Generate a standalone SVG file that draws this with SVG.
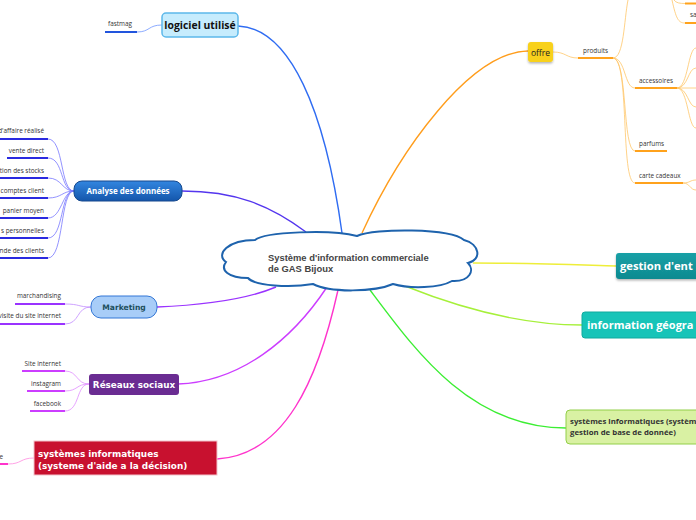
<svg xmlns="http://www.w3.org/2000/svg" width="696" height="520" viewBox="0 0 696 520">
<defs>
<linearGradient id="gAn" x1="0" y1="0" x2="0" y2="1"><stop offset="0" stop-color="#3386e0"/><stop offset="1" stop-color="#1456ab"/></linearGradient>
<linearGradient id="gGe" x1="0" y1="0" x2="0" y2="1"><stop offset="0" stop-color="#17a0a6"/><stop offset="1" stop-color="#0f8a90"/></linearGradient>
<filter id="sh" x="-20%" y="-20%" width="140%" height="160%"><feDropShadow dx="0" dy="1.5" stdDeviation="1" flood-color="#000" flood-opacity="0.3"/></filter>
</defs>
<style>
.sm{font-family:"Open Sans","Noto Sans",sans-serif;font-size:6.4px;fill:#333}
.br{fill:none}
.ul{fill:none;stroke-width:2}
.dv{font-family:"DejaVu Sans",sans-serif;font-weight:bold}
.os{font-family:"Open Sans","Noto Sans",sans-serif;font-weight:bold}
</style>
<rect width="696" height="520" fill="#fff"/>

<g id="connectors">
  <path class="br" d="M238,26 C290,28 325,110 342,233" stroke="#2f6cf2" stroke-width="1.4"/>
  <path class="br" d="M182,191 C235,191 270,205 306,232" stroke="#5436ee" stroke-width="1.4"/>
  <path class="br" d="M157,307 C205,305 245,300 276,287" stroke="#9a33ff" stroke-width="1.4"/>
  <path class="br" d="M178,384 C240,382 292,340 327,287" stroke="#cc3dff" stroke-width="1.4"/>
  <path class="br" d="M217,459 C285,455 318,380 338,290" stroke="#ff33cc" stroke-width="1.4"/>
  <path class="br" d="M362,233 C400,150 470,52 528,51" stroke="#ff9d1c" stroke-width="1.4"/>
  <path class="br" d="M473,263 C530,263 580,265 616,266" stroke="#eeee3a" stroke-width="1.4"/>
  <path class="br" d="M405,286 C470,312 530,325 582,325" stroke="#a6f03a" stroke-width="1.4"/>
  <path class="br" d="M370,290 C415,350 470,428 566,428" stroke="#3cee33" stroke-width="1.4"/>

  <path class="ul" d="M105,32 H137" stroke="#2255dd"/>
  <path class="br" d="M137,32 C150,32 148,25 162,25" stroke="#6f95ff" stroke-width="0.8"/>

  <g stroke="#7777ff" stroke-width="0.8" fill="none">
    <path d="M48,139 C64,139 60,191 74,191"/>
    <path d="M48,158 C64,158 60,191 74,191"/>
    <path d="M48,178 C62,178 62,191 74,191"/>
    <path d="M48,198 C62,198 62,191 74,191"/>
    <path d="M48,218 C62,218 62,191 74,191"/>
    <path d="M48,238 C64,238 60,191 74,191"/>
    <path d="M48,258 C64,258 60,191 74,191"/>
  </g>
  <g stroke="#2a2ae0" class="ul">
    <path d="M0,139 H48"/>
    <path d="M7,158 H48"/>
    <path d="M0,178 H48"/>
    <path d="M0,198 H48"/>
    <path d="M0,218 H48"/>
    <path d="M0,238 H48"/>
    <path d="M0,258 H48"/>
  </g>

  <g stroke="#c28cff" stroke-width="0.8" fill="none">
    <path d="M65,304 C80,304 78,307 91,307"/>
    <path d="M65,324 C80,324 76,307 91,307"/>
  </g>
  <g stroke="#9a33ff" class="ul">
    <path d="M15,304 H65"/>
    <path d="M0,324 H65"/>
  </g>

  <g stroke="#e08cff" stroke-width="0.8" fill="none">
    <path d="M65,371 C78,371 76,384 89,384"/>
    <path d="M65,391 C78,391 76,384 89,384"/>
    <path d="M65,411 C80,411 76,384 89,384"/>
  </g>
  <g stroke="#cc3dff" class="ul">
    <path d="M22,371 H65"/>
    <path d="M27,391 H65"/>
    <path d="M30,411 H65"/>
  </g>

  <path class="br" d="M8,464 C22,464 20,458 34,458" stroke="#ff8ce0" stroke-width="0.8"/>
  <path class="ul" d="M0,464 H8" stroke="#ff33cc"/>

  <g stroke="#ffc76a" stroke-width="0.8" fill="none">
    <path d="M553,52 C566,52 566,58 578,58"/>
    <path d="M613,58 C624,58 624,20 628,0"/>
    <path d="M613,58 C626,58 624,88 635,88"/>
    <path d="M613,58 C628,58 622,151 635,151"/>
    <path d="M613,58 C630,58 620,183 635,183"/>
    <path d="M674,0 C676,3 680,3.5 685,3.5"/>
    <path d="M672,0 C676,18 678,23 685,23"/>
    <path d="M677,88 C688,88 688,48 696,48"/>
    <path d="M677,88 C688,88 688,68 696,68"/>
    <path d="M677,88 H696"/>
    <path d="M677,88 C688,88 688,107 696,107"/>
    <path d="M677,88 C688,88 688,128 696,128"/>
    <path d="M683,183 C690,183 690,180 696,180"/>
    <path d="M683,183 C690,183 690,190 696,190"/>
  </g>
  <g stroke="#ffa21c" class="ul">
    <path d="M578,58 H613"/>
    <path d="M635,88 H677"/>
    <path d="M635,151 H667"/>
    <path d="M635,183 H683"/>
    <path d="M685,3.5 H696"/>
    <path d="M685,23 H696"/>
  </g>
</g>

<g id="center">
  <path d="M226,262 C215,254 228,240 255,240 C265,232 330,229 357,236 C375,228 450,228 464,240 C480,244 482,260 468,263 C475,270 470,282 452,281 C440,288 410,289 393,284 C375,292 330,293 313,284 C290,288 255,286 248,278 C228,278 220,270 226,262 Z" fill="#fff" stroke="#1e63ad" stroke-width="2"/>
  <text font-family="'Liberation Sans',Arial,sans-serif" font-weight="bold" font-size="9.4" fill="#444"><tspan x="268" y="261">Système d'information commerciale</tspan><tspan x="268" y="272">de GAS Bijoux</tspan></text>
</g>

<g id="logiciel">
  <rect x="162" y="13" width="76" height="24" rx="4" fill="#c6ecfd" stroke="#5cb8ea" stroke-width="1.5"/>
  <text x="200" y="29" text-anchor="middle" class="os" font-size="10.4" fill="#111">logiciel utilisé</text>
  <text x="108" y="26" class="sm">fastmag</text>
</g>

<g id="analyse">
  <rect x="74" y="181" width="108" height="20" rx="8" fill="url(#gAn)" stroke="#16498e" stroke-width="1"/>
  <text x="128" y="194" text-anchor="middle" class="os" font-size="8" fill="#fff">Analyse des données</text>
  <g class="sm" text-anchor="end">
    <text x="44" y="133">d'affaire réalisé</text>
    <text x="44" y="153">vente direct</text>
    <text x="44" y="173">stion des stocks</text>
    <text x="44" y="193">comptes client</text>
    <text x="44" y="213">panier moyen</text>
    <text x="44" y="233">s  personnelles</text>
    <text x="44" y="253">ande des clients</text>
  </g>
</g>

<g id="marketing">
  <rect x="91" y="296" width="66" height="22" rx="10" fill="#a8cdf8" stroke="#3377d6" stroke-width="1"/>
  <text x="124" y="310" text-anchor="middle" class="dv" font-size="7.6" fill="#1d4f5c">Marketing</text>
  <g class="sm" text-anchor="end">
    <text x="61" y="298">marchandising</text>
    <text x="61" y="318">visite du site internet</text>
  </g>
</g>

<g id="reseaux">
  <rect x="89" y="374" width="90" height="21" rx="3" fill="#6a2c92"/>
  <text x="134" y="388" text-anchor="middle" class="dv" font-size="8.8" fill="#fff">Réseaux sociaux</text>
  <g class="sm" text-anchor="end">
    <text x="61" y="366">Site internet</text>
    <text x="61" y="386">instagram</text>
    <text x="61" y="406">facebook</text>
  </g>
</g>

<g id="aide">
  <rect x="34" y="441" width="183" height="34" fill="#c8112f" stroke="#f2c4cc" stroke-width="1"/>
  <text class="dv" font-size="8.9" fill="#fff"><tspan x="38" y="457">systèmes informatiques</tspan><tspan x="38" y="469">(systeme d'aide a la décision)</tspan></text>
  <text x="3" y="459" text-anchor="end" class="sm">e</text>
</g>

<g id="offre">
  <rect x="528" y="42" width="25" height="20" rx="3" fill="#f8d11a" filter="url(#sh)"/>
  <text x="540.5" y="55.5" text-anchor="middle" font-family="'Open Sans','Noto Sans',sans-serif" font-size="8.5" fill="#222">offre</text>
  <g class="sm">
    <text x="583" y="53">produits</text>
    <text x="639" y="83">accessoires</text>
    <text x="639" y="146">parfums</text>
    <text x="639" y="178">carte cadeaux</text>
    <text x="690" y="17">sa</text>
  </g>
</g>

<g id="gestion">
  <rect x="616" y="253" width="100" height="26" rx="3" fill="url(#gGe)" filter="url(#sh)"/>
  <text x="620" y="270" class="os" font-size="11.2" fill="#fff">gestion d'ent</text>
</g>

<g id="geo">
  <rect x="582" y="312" width="130" height="26" rx="3" fill="#17c4b8" stroke="#10aa9e" stroke-width="1"/>
  <text x="587" y="329" class="os" font-size="11" fill="#fff">information géogra</text>
</g>

<g id="sysinfo">
  <rect x="566" y="410" width="150" height="34" rx="4" fill="#d9f1a3" stroke="#92cf48" stroke-width="1"/>
  <text class="os" font-size="7.8" fill="#333"><tspan x="570" y="424">systèmes informatiques (systèm</tspan><tspan x="570" y="435">gestion de base de donnée)</tspan></text>
</g>
</svg>
